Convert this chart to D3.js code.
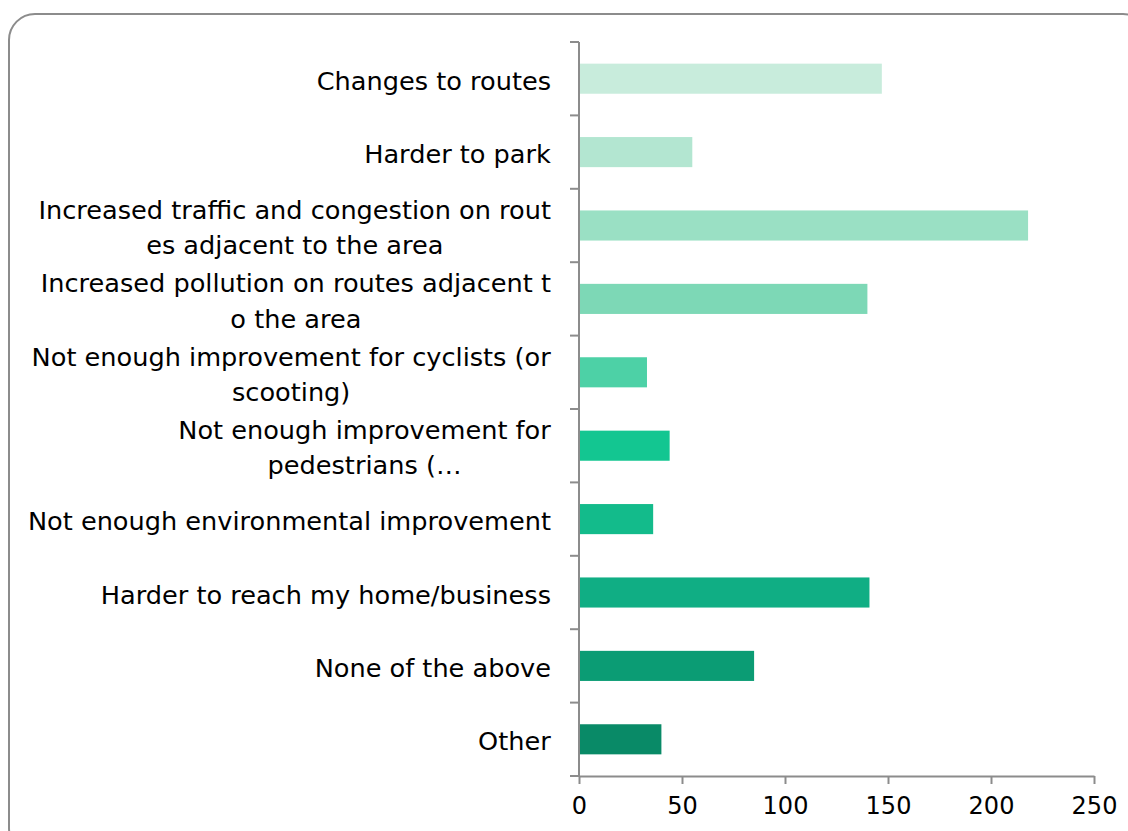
<!DOCTYPE html>
<html>
<head>
<meta charset="utf-8">
<script src="https://cdn.jsdelivr.net/npm/d3@7"></script>
<style>
  html, body { margin: 0; padding: 0; background: #fff; }
  svg { display: block; }
</style>
</head>
<body>
<svg id="chart" width="1128" height="831"></svg>
<script>
const categories = [
  "Changes to routes",
  "Harder to park",
  "Increased traffic and congestion on routes adjacent to the area",
  "Increased pollution on routes adjacent to the area",
  "Not enough improvement for cyclists (or scooting)",
  "Not enough improvement for pedestrians (…",
  "Not enough environmental improvement",
  "Harder to reach my home/business",
  "None of the above",
  "Other"
];
const labelLines = [
  ["Changes to routes"],
  ["Harder to park"],
  ["Increased traffic and congestion on rout", "es adjacent to the area"],
  ["Increased pollution on routes adjacent t", "o the area"],
  ["Not enough improvement for cyclists (or", "scooting)"],
  ["Not enough improvement for", "pedestrians (…"],
  ["Not enough environmental improvement"],
  ["Harder to reach my home/business"],
  ["None of the above"],
  ["Other"]
];
const values = [147, 55, 218, 140, 33, 44, 36, 141, 85, 40];
const colors = ["#c8ecdc", "#b3e6d1", "#9ae0c4", "#7dd8b6", "#4dd1a6", "#13c691", "#13bb8b", "#10ae84", "#0b9c74", "#098a67"];
const xTicks = [0, 50, 100, 150, 200, 250];

(function () {
const svg = d3.select("#chart");
const FONT = "'DejaVu Sans', sans-serif";

// frame
svg.append("rect")
  .attr("x", 9).attr("y", 14)
  .attr("width", 1140).attr("height", 840)
  .attr("rx", 26).attr("ry", 26)
  .attr("fill", "#fff")
  .attr("stroke", "#8c8c8c")
  .attr("stroke-width", 2);

const pLeft = 579, pRight = 1094, pTop = 42, pBottom = 776;

const x = d3.scaleLinear().domain([0, 250]).range([pLeft, pRight]);
const y = d3.scaleBand().domain(categories).range([pTop, pBottom]).paddingInner(0.59).paddingOuter(0.295);
const band = d3.scaleBand().domain(categories).range([pTop, pBottom]);

// bars
svg.append("g").selectAll("rect")
  .data(categories)
  .join("rect")
  .attr("x", x(0))
  .attr("y", d => y(d))
  .attr("width", (d, i) => x(values[i]) - x(0))
  .attr("height", y.bandwidth())
  .attr("fill", (d, i) => colors[i]);

// y axis line + ticks at band boundaries
const axisColor = "#8c8c8c";
svg.append("line")
  .attr("x1", pLeft).attr("x2", pLeft)
  .attr("y1", pTop).attr("y2", pBottom)
  .attr("stroke", axisColor).attr("stroke-width", 2);
const boundaries = categories.map(c => band(c)).concat([pBottom]);
svg.append("g").selectAll("line")
  .data(boundaries)
  .join("line")
  .attr("x1", pLeft - 9).attr("x2", pLeft)
  .attr("y1", d => d).attr("y2", d => d)
  .attr("stroke", axisColor).attr("stroke-width", 2);

// x axis
const xAxis = d3.axisBottom(x).tickValues(xTicks).tickSize(8).tickPadding(13).tickSizeOuter(0);
const gx = svg.append("g").attr("transform", `translate(0,${pBottom})`).call(xAxis);
gx.select(".domain").attr("stroke", axisColor).attr("stroke-width", 2);
gx.selectAll(".tick line").attr("stroke", axisColor).attr("stroke-width", 2);
gx.selectAll(".tick text")
  .attr("fill", "#000")
  .style("font-family", FONT)
  .style("font-size", "24px");

// category labels
const lineH = 35.5;
const lg = svg.append("g");
categories.forEach((c, i) => {
  const cy = band(c) + band.bandwidth() / 2;
  const lines = labelLines[i];
  const t = lg.append("text")
    .attr("text-anchor", "middle")
    .style("font-family", FONT)
    .style("font-size", "25.6px")
    .attr("fill", "#000");
  lines.forEach((ln, j) => {
    t.append("tspan")
      .attr("x", 0)
      .attr("y", cy + (j - (lines.length - 1) / 2) * lineH)
      .attr("dy", "0.43em")
      .text(ln);
  });
  const bb = t.node().getBBox();
  const cx = 551 - bb.width / 2;
  t.selectAll("tspan").attr("x", cx);
});
})();
</script>
</body>
</html>
